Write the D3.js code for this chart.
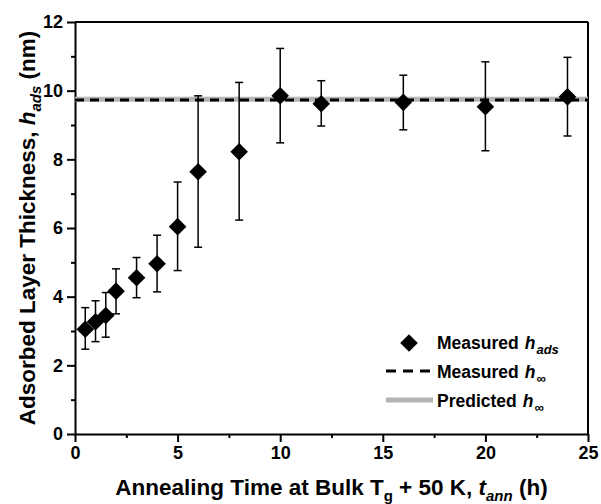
<!DOCTYPE html>
<html>
<head>
<meta charset="utf-8">
<script src="https://cdn.jsdelivr.net/npm/d3@7"></script>
<style>
  body { margin: 0; background: #fff; }
  svg { font-family: "Liberation Sans", Arial, sans-serif; font-weight: bold; }
  .axis path, .axis line { stroke: #000; stroke-width: 2; }
  .axis text { font-size: 18px; font-weight: bold; fill: #000; }
</style>
</head>
<body>
<svg width="601" height="504"></svg>
<script>
// annealing time (h), measured h_ads (nm) and error bar ends
const times  = [0.5, 1, 1.5, 2, 3, 4, 5, 6, 8, 10, 12, 16, 20, 24];
const hads   = [3.05, 3.27, 3.45, 4.16, 4.55, 4.96, 6.04, 7.64, 8.22, 9.85, 9.62, 9.66, 9.53, 9.82];
const errHi  = [3.68, 3.88, 4.12, 4.81, 5.14, 5.79, 7.34, 9.85, 10.24, 11.23, 10.29, 10.45, 10.84, 10.97];
const errLo  = [2.47, 2.69, 2.82, 3.50, 3.97, 4.14, 4.76, 5.44, 6.23, 8.48, 8.97, 8.86, 8.25, 8.68];
const hInfMeasured = 9.73;
const hInfPredicted = 9.75;
const xTicks = [0, 5, 10, 15, 20, 25];
const yTicks = [0, 2, 4, 6, 8, 10, 12];

const svg = d3.select('svg'),
    margin = {top: 22, right: 13, bottom: 70, left: 75},
    width = +svg.attr('width') - margin.left - margin.right,
    height = +svg.attr('height') - margin.top - margin.bottom;

const x = d3.scaleLinear().domain([0, 25]).range([0, width]),
    y = d3.scaleLinear().domain([0, 12]).range([height, 0]);

const g = svg.append('g')
    .attr('transform', 'translate(' + margin.left + ',' + margin.top + ')');

// minor ticks
g.append('g')
    .attr('class', 'axis')
    .attr('transform', 'translate(0,' + height + ')')
    .call(d3.axisBottom(x).tickValues(d3.range(2.5, 25, 5)).tickSize(4).tickFormat(''))
    .select('.domain').remove();
g.append('g')
    .attr('class', 'axis')
    .call(d3.axisLeft(y).tickValues(d3.range(1, 12, 2)).tickSize(4).tickFormat(''))
    .select('.domain').remove();

// major axes
g.append('g')
    .attr('class', 'axis')
    .attr('transform', 'translate(0,' + height + ')')
    .call(d3.axisBottom(x).tickValues(xTicks).tickSize(8).tickSizeOuter(0).tickPadding(4));
g.append('g')
    .attr('class', 'axis')
    .call(d3.axisLeft(y).tickValues(yTicks).tickSize(8).tickSizeOuter(0).tickPadding(4));

// box top / right
g.append('line').attr('x1', 0).attr('x2', width).attr('y1', 0).attr('y2', 0)
    .attr('stroke', '#000').attr('stroke-width', 2);
g.append('line').attr('x1', width).attr('x2', width).attr('y1', 0).attr('y2', height)
    .attr('stroke', '#000').attr('stroke-width', 2);

// horizontal reference lines
g.append('line')
    .attr('x1', x(0)).attr('x2', x(25))
    .attr('y1', y(hInfPredicted)).attr('y2', y(hInfPredicted))
    .attr('stroke', '#b4b4b4').attr('stroke-width', 5);
g.append('line')
    .attr('x1', x(0)).attr('x2', x(25))
    .attr('y1', y(hInfMeasured)).attr('y2', y(hInfMeasured))
    .attr('stroke', '#000').attr('stroke-width', 3)
    .attr('stroke-dasharray', '9,6');

const data = times.map(function(t, i) {
    return {t: t, h: hads[i], hi: errHi[i], lo: errLo[i]};
});

// error bars
const eb = g.selectAll('.err').data(data).enter().append('g').attr('class', 'err')
    .attr('stroke', '#000').attr('stroke-width', 1.5);
eb.append('line')
    .attr('x1', function(d) { return x(d.t); }).attr('x2', function(d) { return x(d.t); })
    .attr('y1', function(d) { return y(d.hi); }).attr('y2', function(d) { return y(d.lo); });
eb.append('line')
    .attr('x1', function(d) { return x(d.t) - 4; }).attr('x2', function(d) { return x(d.t) + 4; })
    .attr('y1', function(d) { return y(d.hi); }).attr('y2', function(d) { return y(d.hi); });
eb.append('line')
    .attr('x1', function(d) { return x(d.t) - 4; }).attr('x2', function(d) { return x(d.t) + 4; })
    .attr('y1', function(d) { return y(d.lo); }).attr('y2', function(d) { return y(d.lo); });

// diamonds
const diamond = d3.symbol().type(d3.symbolSquare).size(155);
g.selectAll('.pt').data(data).enter().append('path')
    .attr('class', 'pt')
    .attr('d', diamond)
    .attr('fill', '#000')
    .attr('transform', function(d) {
        return 'translate(' + x(d.t) + ',' + y(d.h) + ') rotate(45)';
    });

// axis titles
const xt = svg.append('text')
    .attr('x', margin.left + width / 2)
    .attr('y', 495)
    .attr('text-anchor', 'middle')
    .style('font-size', '22.5px');
xt.append('tspan').text('Annealing Time at Bulk T');
xt.append('tspan').attr('dy', 6).style('font-size', '15px').text('g');
xt.append('tspan').attr('dy', -6).text(' + 50 K, ');
xt.append('tspan').style('font-style', 'italic').text('t');
xt.append('tspan').attr('dy', 6).style('font-style', 'italic').style('font-size', '15px').text('ann');
xt.append('tspan').attr('dy', -6).text(' (h)');

const yt = svg.append('text')
    .attr('transform', 'translate(35,' + (margin.top + height / 2) + ') rotate(-90)')
    .attr('text-anchor', 'middle')
    .style('font-size', '22.5px');
yt.append('tspan').text('Adsorbed Layer Thickness, ');
yt.append('tspan').style('font-style', 'italic').text('h');
yt.append('tspan').attr('dy', 6).style('font-style', 'italic').style('font-size', '15px').text('ads');
yt.append('tspan').attr('dy', -6).text(' (nm)');

// legend
const legend = svg.append('g').attr('class', 'legend')
    .attr('transform', 'translate(386,343)');
legend.append('path')
    .attr('d', diamond)
    .attr('fill', '#000')
    .attr('transform', 'translate(23,0) rotate(45)');
legend.append('line')
    .attr('x1', 0).attr('x2', 46).attr('y1', 28).attr('y2', 28)
    .attr('stroke', '#000').attr('stroke-width', 3).attr('stroke-dasharray', '10,7');
legend.append('line')
    .attr('x1', 0).attr('x2', 47).attr('y1', 57).attr('y2', 57)
    .attr('stroke', '#b4b4b4').attr('stroke-width', 5);

const labels = [
    {main: 'Measured', sub: 'ads'},
    {main: 'Measured', sub: '\u221E'},
    {main: 'Predicted', sub: '\u221E'}
];
labels.forEach(function(l, i) {
    const t = legend.append('text')
        .attr('x', 51)
        .attr('y', i * 29 + 6)
        .style('font-size', '17.5px');
    t.append('tspan').attr('xml:space', 'preserve').text(l.main);
    t.append('tspan').attr('dx', 6).style('font-style', 'italic').text('h');
    t.append('tspan').attr('dx', 1).attr('dy', 5).style('font-style', 'italic')
        .style('font-size', '13px').text(l.sub);
});
</script>
</body>
</html>
